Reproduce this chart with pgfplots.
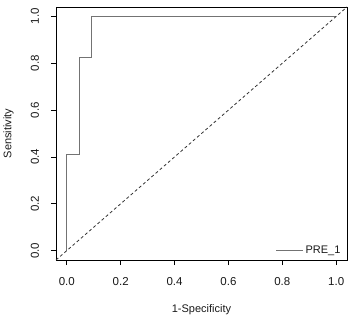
\documentclass[border=0pt]{standalone}
\usepackage{pgfplots}
\pgfplotsset{compat=1.18}
\usepackage{fontspec}
\setmainfont{Liberation Sans}
\begin{document}
\begin{tikzpicture}
\useasboundingbox (-56pt,-59pt) rectangle (298pt,260pt);
\begin{axis}[
  scale only axis,
  width=291pt, height=253pt,
  xmin=-0.04, xmax=1.04, ymin=-0.04, ymax=1.04,
  xtick={0,0.2,0.4,0.6,0.8,1.0},
  ytick={0,0.2,0.4,0.6,0.8,1.0},
  xticklabels={0.0,0.2,0.4,0.6,0.8,1.0},
  yticklabels={0.0,0.2,0.4,0.6,0.8,1.0},
  tick align=outside,
  xtick pos=left, ytick pos=left,
  major tick length=5pt,
  tick style={black, line width=0.8pt},
  axis line style={black, line width=0.9pt},
  ticklabel style={font=\fontsize{11.5}{13}\selectfont, text=black!90},
  xticklabel style={anchor=center, yshift=-17pt},
  yticklabel style={rotate=90, anchor=south, yshift=8.5pt},
  xlabel={1-Specificity}, ylabel={Sensitivity},
  label style={font=\fontsize{11}{13}\selectfont, text=black!90},
  xlabel style={at={(axis description cs:0.5,-0.1976)}, anchor=center},
  ylabel style={at={(axis description cs:-0.163,0.5)}, anchor=center},
  legend style={draw=none, fill=none, at={(axis cs:1.035,-0.035)}, anchor=south east, font=\fontsize{11}{13}\selectfont, text=black!90},
  legend cell align=left,
  legend image code/.code={\draw[#1] (0pt,0pt) -- (20pt,0pt); \path (0pt,0pt) -- (27pt,0pt);},
  clip=true,
]
\addplot[gray!90!black, line width=0.8pt, const plot] coordinates {
  (0,0) (0,0.4118) (0.0455,0.8235) (0.0909,1.0) (1.0,1.0)
};
\addlegendentry{PRE\_1}
\addplot[black!80, line width=0.8pt, dash pattern=on 3pt off 2.5pt, forget plot] coordinates {(-0.04,-0.04) (1.04,1.04)};
\end{axis}
\end{tikzpicture}
\end{document}
